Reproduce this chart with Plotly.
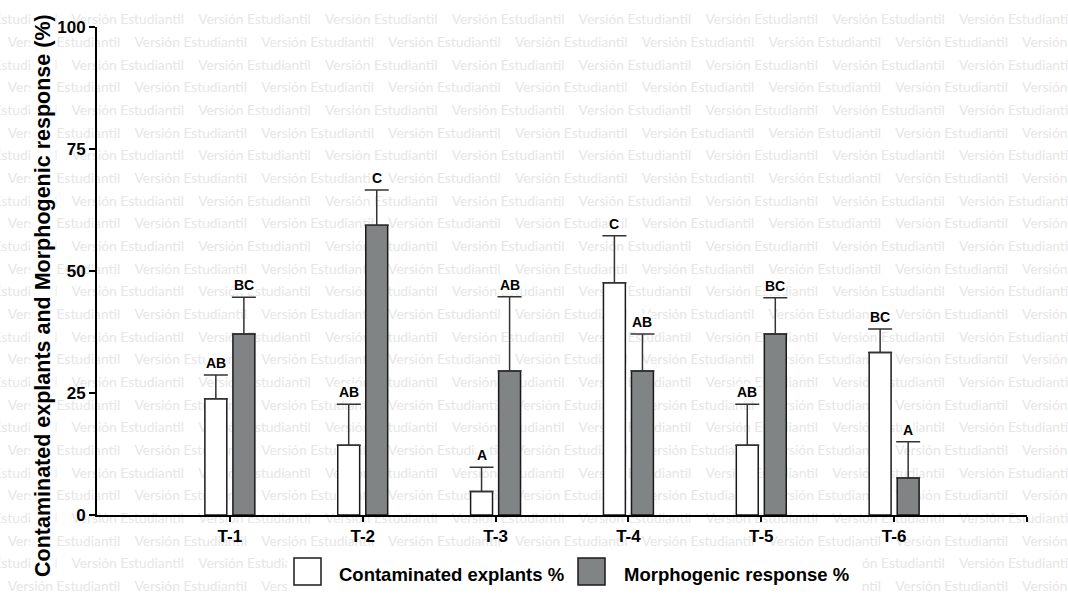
import plotly.graph_objects as go

# ---------------- data ----------------
categories = ["T-1", "T-2", "T-3", "T-4", "T-5", "T-6"]
series_names = ["Contaminated explants %", "Morphogenic response %"]
contaminated = [23.8, 14.3, 4.8, 47.6, 14.3, 33.3]
contaminated_err = [4.9, 8.4, 5.0, 9.6, 8.4, 4.8]
morphogenic = [37.1, 59.4, 29.5, 29.5, 37.1, 7.6]
morphogenic_err = [7.5, 7.2, 15.2, 7.6, 7.4, 7.4]
contaminated_letters = ["AB", "AB", "A", "C", "AB", "BC"]
morphogenic_letters = ["BC", "C", "AB", "AB", "BC", "A"]
y_ticks = [0, 25, 50, 75, 100]
y_title = "Contaminated explants and Morphogenic response (%)"
watermark_text = "Versión Estudiantil"

# ---------------- style ----------------
FONT = "Liberation Sans, Arial, Helvetica, sans-serif"
WM_FONT = "Lato, Liberation Sans, sans-serif"
GRAY = "#808484"
EDGE = "#1a1a1a"
ERR = "#333333"
W, H = 1068, 597
ML, MR, MT, MB = 97, 41, 27, 82
PW, PH = W - ML - MR, H - MT - MB

def px_x(px):
    return (px - ML) / PW

def px_y(py):
    return (H - MB - py) / PH

n = len(categories)
positions = [i + 1 for i in range(n)]
bar_w = 0.165
offsets = [-0.188, 0.023]

fig = go.Figure()

series = [
    (contaminated, contaminated_err, contaminated_letters, "white"),
    (morphogenic, morphogenic_err, morphogenic_letters, GRAY),
]

annotations = []
for s, (vals, errs, letters, color) in enumerate(series):
    fig.add_trace(go.Bar(
        x=positions, y=vals, width=bar_w, offset=offsets[s],
        name=series_names[s], showlegend=False,
        marker=dict(color=color, line=dict(color=EDGE, width=1.5)),
        error_y=dict(type="data", array=errs, arrayminus=[0] * n,
                     symmetric=False, color=ERR, thickness=1.5, width=12),
    ))
    for p, v, e, t in zip(positions, vals, errs, letters):
        annotations.append(dict(
            x=p + offsets[s] + bar_w / 2, y=v + e, xref="x", yref="y",
            text=t, showarrow=False, yanchor="bottom", yshift=3,
            bgcolor="white", borderpad=0,
            font=dict(family=FONT, size=14, color="black", weight="bold"),
        ))

# y-axis title (as annotation so it can sit below centre like the original)
annotations.append(dict(
    x=px_x(43), y=px_y(296), xref="paper", yref="paper", text=y_title,
    textangle=-90, showarrow=False, xanchor="center", yanchor="middle",
    bgcolor="white", borderpad=0,
    font=dict(family=FONT, size=21.5, color="black", weight="bold"),
))

shapes = []
# watermark tiling (drawn below the bars)
row_h = 22.67
col_w = 126.8
for k in range(26):
    yc = 19 + row_h * k
    start = -54.1 if k % 2 == 0 else 9.0
    for j in range(10):
        xs = start + col_w * j
        if xs > W:
            break
        shapes.append(dict(
            type="rect", xref="paper", yref="paper", layer="below",
            x0=px_x(xs), x1=px_x(xs + 110), y0=px_y(yc + 8), y1=px_y(yc - 8),
            line=dict(width=0), fillcolor="rgba(0,0,0,0)",
            label=dict(text=watermark_text, textposition="middle center", padding=0,
                       font=dict(family=WM_FONT, size=13.8, color="#e6e6e6")),
        ))

# custom legend
shapes.append(dict(type="rect", xref="paper", yref="paper", layer="below",
                   x0=px_x(287), x1=px_x(862), y0=px_y(597), y1=px_y(552),
                   line=dict(width=0), fillcolor="white"))
legend_items = [(294, 337, "white"), (578, 622, GRAY)]
for (bx, tx, col), name in zip(legend_items, series_names):
    shapes.append(dict(type="rect", xref="paper", yref="paper", layer="above",
                       x0=px_x(bx), x1=px_x(bx + 27), y0=px_y(585), y1=px_y(558),
                       line=dict(width=1.5, color=EDGE), fillcolor=col))
    annotations.append(dict(
        x=px_x(tx), y=px_y(574), xref="paper", yref="paper", text=name,
        showarrow=False, xanchor="left", yanchor="middle",
        font=dict(family=FONT, size=18.5, color="black", weight="bold"),
    ))

fig.update_layout(
    width=W, height=H,
    margin=dict(l=ML, r=MR, t=MT, b=MB, pad=0),
    paper_bgcolor="white", plot_bgcolor="rgba(0,0,0,0)",
    barmode="overlay", showlegend=False,
    shapes=shapes, annotations=annotations,
    xaxis=dict(
        range=[0, n + 1], tickvals=positions + [n + 1], ticktext=categories + [""],
        ticks="outside", ticklen=5, tickwidth=2, tickcolor="black",
        showline=True, linewidth=2, linecolor="black",
        showgrid=False, zeroline=False,
        tickfont=dict(family=FONT, size=17, color="black", weight="bold"),
    ),
    yaxis=dict(
        range=[0, 100], tickvals=y_ticks, ticktext=[str(t) for t in y_ticks],
        ticks="outside", ticklen=6, tickwidth=2, tickcolor="black",
        showline=True, linewidth=2, linecolor="black",
        showgrid=False, zeroline=False,
        tickfont=dict(family=FONT, size=17, color="black", weight="bold"),
    ),
)

fig.write_html("out.html", config={"displayModeBar": False},
               post_script="document.body.style.margin='0px';")
